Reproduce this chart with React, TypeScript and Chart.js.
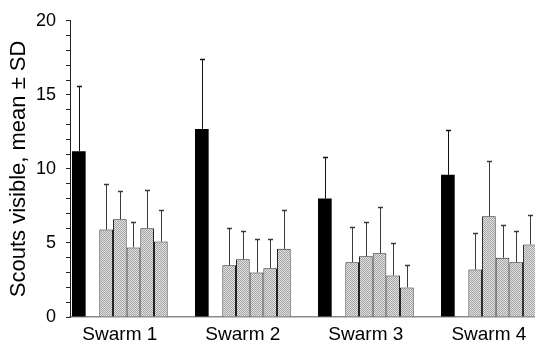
import { useEffect, useRef } from 'react';
import { Chart, registerables } from 'chart.js';

Chart.register(...registerables);

const categories = ['Swarm 1', 'Swarm 2', 'Swarm 3', 'Swarm 4'];
const yTicks = [0, 5, 10, 15, 20];

const blackMean = [11.2, 12.7, 8.0, 9.6];
const blackSD = [4.4, 4.7, 2.8, 3.0];

const gray1Mean = [5.9, 3.5, 3.7, 3.2];
const gray1SD = [3.1, 2.5, 2.4, 2.5];
const gray2Mean = [6.6, 3.9, 4.1, 6.8];
const gray2SD = [1.9, 1.9, 2.3, 3.7];
const gray3Mean = [4.7, 3.0, 4.3, 4.0];
const gray3SD = [1.7, 2.3, 3.1, 2.2];
const gray4Mean = [6.0, 3.3, 2.8, 3.7];
const gray4SD = [2.6, 2.0, 2.2, 2.1];
const gray5Mean = [5.1, 4.6, 2.0, 4.9];
const gray5SD = [2.1, 2.6, 1.5, 2.0];

const FONT = '"Liberation Sans", Arial, Helvetica, sans-serif';

const toPoints = (vals: (number | null)[]) =>
  categories.map((_, i) => ({ x: i + 1, y: vals[i] }));

const errorBarPlugin = {
  id: 'errorBars',
  afterDatasetsDraw(chart: any) {
    const ctx = chart.ctx;
    const yScale = chart.scales.y;
    chart.data.datasets.forEach((ds: any, di: number) => {
      const sd: number[] | undefined = ds.sd;
      if (!sd) return;
      const meta = chart.getDatasetMeta(di);
      meta.data.forEach((el: any, i: number) => {
        const v = ds.data[i].y;
        if (v == null) return;
        const top = Math.round(yScale.getPixelForValue(v + sd[i])) + 0.5;
        const x = Math.round(el.x) + 0.5;
        ctx.save();
        ctx.strokeStyle = ds.errorColor || '#333';
        ctx.lineWidth = 1;
        ctx.beginPath();
        ctx.moveTo(x, el.y);
        ctx.lineTo(x, top);
        ctx.stroke();
        ctx.lineWidth = 1.5;
        ctx.beginPath();
        ctx.moveTo(x - 2.5, top);
        ctx.lineTo(x + 2.5, top);
        ctx.stroke();
        ctx.restore();
      });
    });
  },
};

function makePattern(ctx: CanvasRenderingContext2D) {
  const c = document.createElement('canvas');
  c.width = 2;
  c.height = 2;
  const p = c.getContext('2d')!;
  p.fillStyle = '#e2e2e2';
  p.fillRect(0, 0, 2, 2);
  p.fillStyle = '#a4a4a4';
  p.fillRect(0, 0, 1, 1);
  p.fillRect(1, 1, 1, 1);
  return ctx.createPattern(c, 'repeat') as CanvasPattern;
}

export default function App() {
  const ref = useRef<HTMLCanvasElement | null>(null);

  useEffect(() => {
    const canvas = ref.current;
    if (!canvas) return;
    const ctx = canvas.getContext('2d')!;
    const pattern = makePattern(ctx);

    const grayDs = (label: string, mean: number[], sd: number[]) => ({
      label,
      data: toPoints(mean),
      sd,
      errorColor: '#3a3a3a',
      backgroundColor: pattern,
      borderColor: '#222',
      borderWidth: 1,
    });

    const chart = new Chart(ctx, {
      type: 'bar',
      data: {
        datasets: [
          {
            label: 'Black',
            data: toPoints(blackMean),
            sd: blackSD,
            errorColor: '#111',
            backgroundColor: '#000',
            borderWidth: 0,
          } as any,
          {
            label: '',
            data: toPoints([null, null, null, null]),
            backgroundColor: 'rgba(0,0,0,0)',
            borderWidth: 0,
          } as any,
          grayDs('Gray 1', gray1Mean, gray1SD),
          grayDs('Gray 2', gray2Mean, gray2SD),
          grayDs('Gray 3', gray3Mean, gray3SD),
          grayDs('Gray 4', gray4Mean, gray4SD),
          grayDs('Gray 5', gray5Mean, gray5SD),
        ],
      },
      options: {
        animation: false,
        responsive: false,
        devicePixelRatio: 1,
        layout: { padding: { left: 0, top: 18, right: 0, bottom: 0 } },
        datasets: {
          bar: { categoryPercentage: 7 / 9, barPercentage: 1 },
        },
        plugins: {
          legend: { display: false },
          tooltip: { enabled: false },
        },
        scales: {
          x: {
            type: 'linear',
            offset: false,
            min: 0.595,
            max: 4.375,
            grid: { display: false, drawTicks: false, offset: false },
            border: { display: true, color: '#8a8a8a', width: 1.5 },
            afterFit: (s: any) => {
              s.height = 38;
            },
            ticks: {
              stepSize: 1,
              includeBounds: false,
              autoSkip: false,
              maxRotation: 0,
              padding: 6,
              color: '#000',
              font: { family: FONT, size: 19 },
              callback: (v: any) => categories[Number(v) - 1] ?? '',
            },
          },
          y: {
            min: 0,
            max: 20,
            grid: {
              drawOnChartArea: false,
              drawTicks: true,
              tickLength: 4,
              color: '#222',
            },
            border: { display: true, color: '#222', width: 1 },
            afterFit: (s: any) => {
              s.width = 70;
            },
            ticks: {
              stepSize: 1,
              autoSkip: false,
              padding: 10,
              color: '#000',
              font: { family: FONT, size: 18 },
              callback: (v: any) => (yTicks.includes(Number(v)) ? String(v) : ''),
            },
            title: {
              display: true,
              text: 'Scouts visible, mean ± SD',
              color: '#000',
              padding: { top: 6, bottom: 0 },
              font: { family: FONT, size: 22 },
            },
          },
        },
      } as any,
      plugins: [errorBarPlugin],
    });

    return () => chart.destroy();
  }, []);

  return (
    <div style={{ position: 'fixed', left: 0, top: 0, width: 535, height: 355, background: '#fff' }}>
      <canvas ref={ref} width={535} height={355} style={{ display: 'block' }} />
    </div>
  );
}
